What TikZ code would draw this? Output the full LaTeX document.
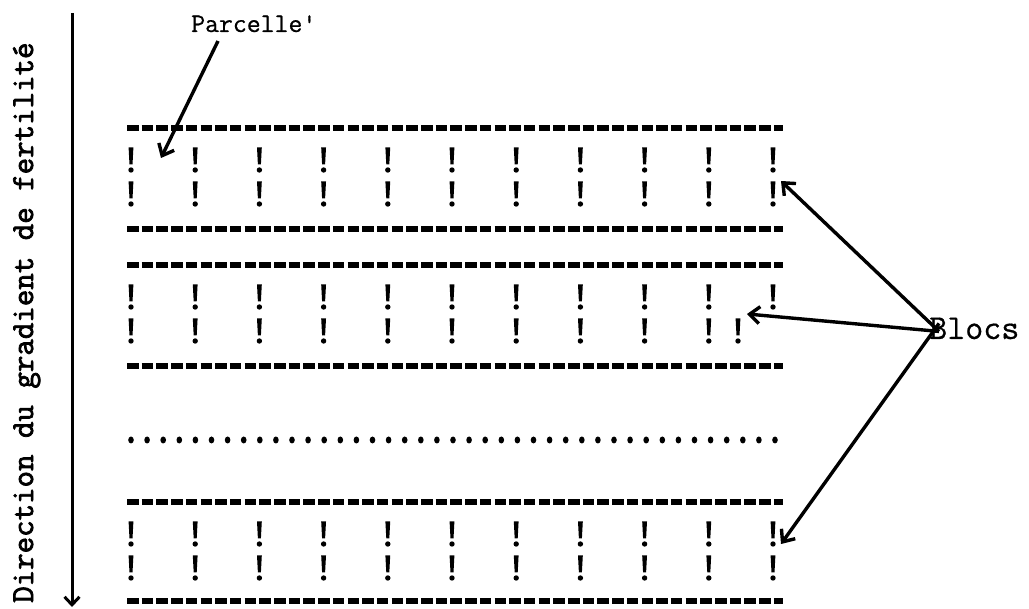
\documentclass[tikz,border=0pt]{standalone}
\usepackage{fontspec}
\usetikzlibrary{arrows.meta}
\newfontfamily\typeface[FakeBold=0.6]{Latin Modern Mono}
\newfontfamily\typefacebold[FakeBold=2.4]{Latin Modern Mono}
\begin{document}
\begin{tikzpicture}[x=1pt,y=-1pt,
  rule/.style={line width=5.2pt, dash pattern=on 11.5pt off 3.2pt},
  pointer/.style={line width=3.4pt, -{Straight Barb[length=10pt,width=17pt]}},
  axisarrow/.style={line width=3pt, -{Straight Barb[length=8pt,width=15pt]}},
  lbl/.style={inner sep=0pt},
]
\useasboundingbox (0,0) rectangle (1029,609);

% gradient axis with its label
\coordinate (axtop) at (72,13);
\coordinate (axbot) at (72,607);
\draw[axisarrow] (axtop) -- (axbot);
\node[lbl, rotate=90, anchor=base west, font=\typefacebold\fontsize{32}{34}\selectfont]
  (axis) at (33,603) {Direction du gradient de fertilité};

% block boundaries
\foreach \t/\b [count=\k] in {128/229, 265/366, 502/601} {
  \draw[rule] (127,\t) -- (783,\t);
  \draw[rule] (127,\b) -- (783,\b);
  % plot separators, two rows of marks per block
  \foreach \r in {32,66} {
    \foreach \i in {0,...,10} {
      \pgfmathsetmacro{\xx}{131+\i*64.2}
      \pgfmathsetmacro{\cc}{\t+\r}
      \ifnum\i=10
        \ifnum\k=2 \ifnum\r=66 \def\xx{738}\fi\fi
      \fi
      \fill (\xx-2.4,\cc-12.5) -- (\xx+2.4,\cc-12.5) -- (\xx+1.5,\cc+4.5) -- (\xx-1.5,\cc+4.5) -- cycle;
      \fill (\xx,\cc+10) circle (2.7);
    }
  }
}

% dotted separator between blocks
\foreach \i in {0,...,40}
  \fill (131+\i*16.1,440) ellipse (2.8 and 3.5);

% labels
\node[lbl, anchor=base west, font=\typeface\fontsize{27}{29}\selectfont]
  (parc) at (191,32) {Parcelle'};
\node[lbl, anchor=base west, font=\typeface\fontsize{35}{37}\selectfont]
  (blocs) at (929,339) {Blocs};

% pointers
\coordinate (parctail) at (218,41);
\coordinate (plot) at (161,158);
\draw[pointer] (parctail) -- (plot);

\coordinate (bj) at ([xshift=10pt,yshift=-3pt]blocs.west);
\coordinate (b1) at (781,181);
\coordinate (b2) at (747,314);
\coordinate (b3) at (781,544);
\draw[pointer] (bj) -- (b1);
\draw[pointer] (bj) -- (b2);
\draw[pointer] ([yshift=8pt]bj) -- (b3);
\end{tikzpicture}
\end{document}
